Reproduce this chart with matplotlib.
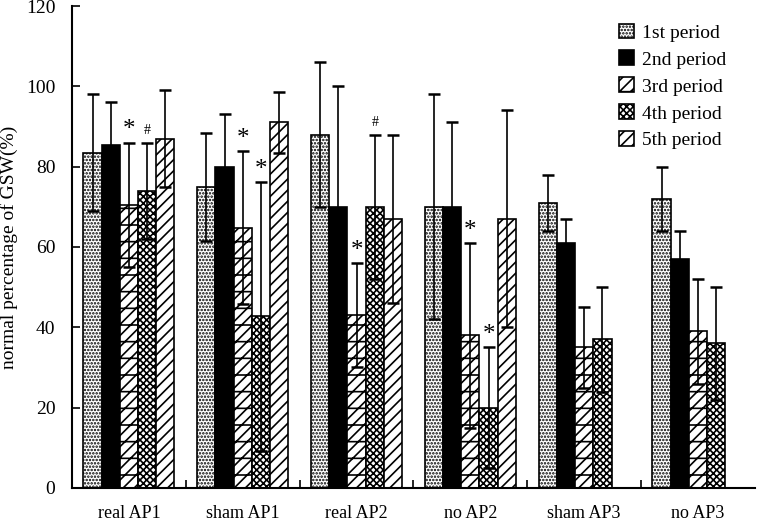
import numpy as np
import matplotlib.pyplot as plt

plt.rcParams['font.family'] = ['Liberation Serif', 'DejaVu Serif']
plt.rcParams['hatch.linewidth'] = 1.2

groups = ['real AP1', 'sham AP1', 'real AP2', 'no AP2', 'sham AP3', 'no AP3']
periods = ['1st period', '2nd period', '3rd period', '4th period', '5th period']

p1 = [83.5, 75.0, 88.0, 70.0, 71.0, 72.0]
p2 = [85.5, 80.0, 70.0, 70.0, 61.0, 57.0]
p3 = [70.5, 64.8, 43.0, 38.0, 35.0, 39.0]
p4 = [74.0, 42.7, 70.0, 20.0, 37.0, 36.0]
p5 = [87.0, 91.0, 67.0, 67.0, np.nan, np.nan]

e1 = [14.5, 13.5, 18.0, 28.0, 7.0, 8.0]
e2 = [10.5, 13.0, 30.0, 21.0, 6.0, 7.0]
e3 = [15.5, 19.0, 13.0, 23.0, 10.0, 13.0]
e4 = [12.0, 33.5, 18.0, 15.0, 13.0, 14.0]
e5 = [12.0, 7.5, 21.0, 27.0, np.nan, np.nan]

# significance marks: (group, period index, symbol)
marks = [(0, 2, '*'), (0, 3, '#'), (1, 2, '*'), (1, 3, '*'),
         (2, 2, '*'), (2, 3, '#'), (3, 2, '*'), (3, 3, '*')]

values = [p1, p2, p3, p4, p5]
errors = [e1, e2, e3, e4, e5]
styles = [dict(color='white', hatch='.....'),
          dict(color='black', hatch=None),
          dict(color='white', hatch='///-'),
          dict(color='white', hatch='xxxxx'),
          dict(color='white', hatch='///')]

fig = plt.figure(figsize=(7.63, 5.23), dpi=100)
ax = fig.add_axes([0.0944, 0.067, 0.895, 0.9215])

x = np.arange(len(groups))
w = 0.16
for i in range(5):
    pos = x + 0.1 + w * i + w / 2
    ax.bar(pos, values[i], width=w, color=styles[i]['color'], hatch=styles[i]['hatch'],
           edgecolor='black', linewidth=1.2, label=periods[i])
    ax.errorbar(pos, values[i], yerr=errors[i], fmt='none', ecolor='black',
                elinewidth=1.2, capsize=4, capthick=1.8)

for g, i, s in marks:
    top = values[i][g] + errors[i][g]
    pos = x[g] + 0.1 + w * i + w / 2
    if s == '*':
        ax.text(pos, top + 0.3, s, ha='center', va='bottom', fontsize=18)
    else:
        ax.text(pos, top + 1.5, s, ha='center', va='bottom', fontsize=10)

ax.set_xlim(0, 6)
ax.set_ylim(0, 120)
ax.set_yticks(range(0, 121, 20))
ax.set_xticks(x + 0.5)
ax.set_xticklabels(groups)
ax.set_xticks(range(1, 6), minor=True)
ax.tick_params(axis='x', which='major', length=0, pad=12, labelsize=13)
ax.tick_params(axis='x', which='minor', direction='in', length=6, width=1.2)
ax.tick_params(axis='y', direction='in', length=6, width=1.2, labelsize=14, pad=12)
ax.spines['top'].set_visible(False)
ax.spines['right'].set_visible(False)
ax.spines['left'].set_linewidth(1.5)
ax.spines['bottom'].set_linewidth(1.5)
ax.set_ylabel('normal percentage of GSW(%)', fontsize=14, labelpad=6)

ax.legend(loc='upper left', bbox_to_anchor=(0.775, 1.0), frameon=False, fontsize=14,
          handlelength=0.8, handleheight=0.8, handletextpad=0.4, labelspacing=0.45)

plt.savefig('out.png', dpi=100)
